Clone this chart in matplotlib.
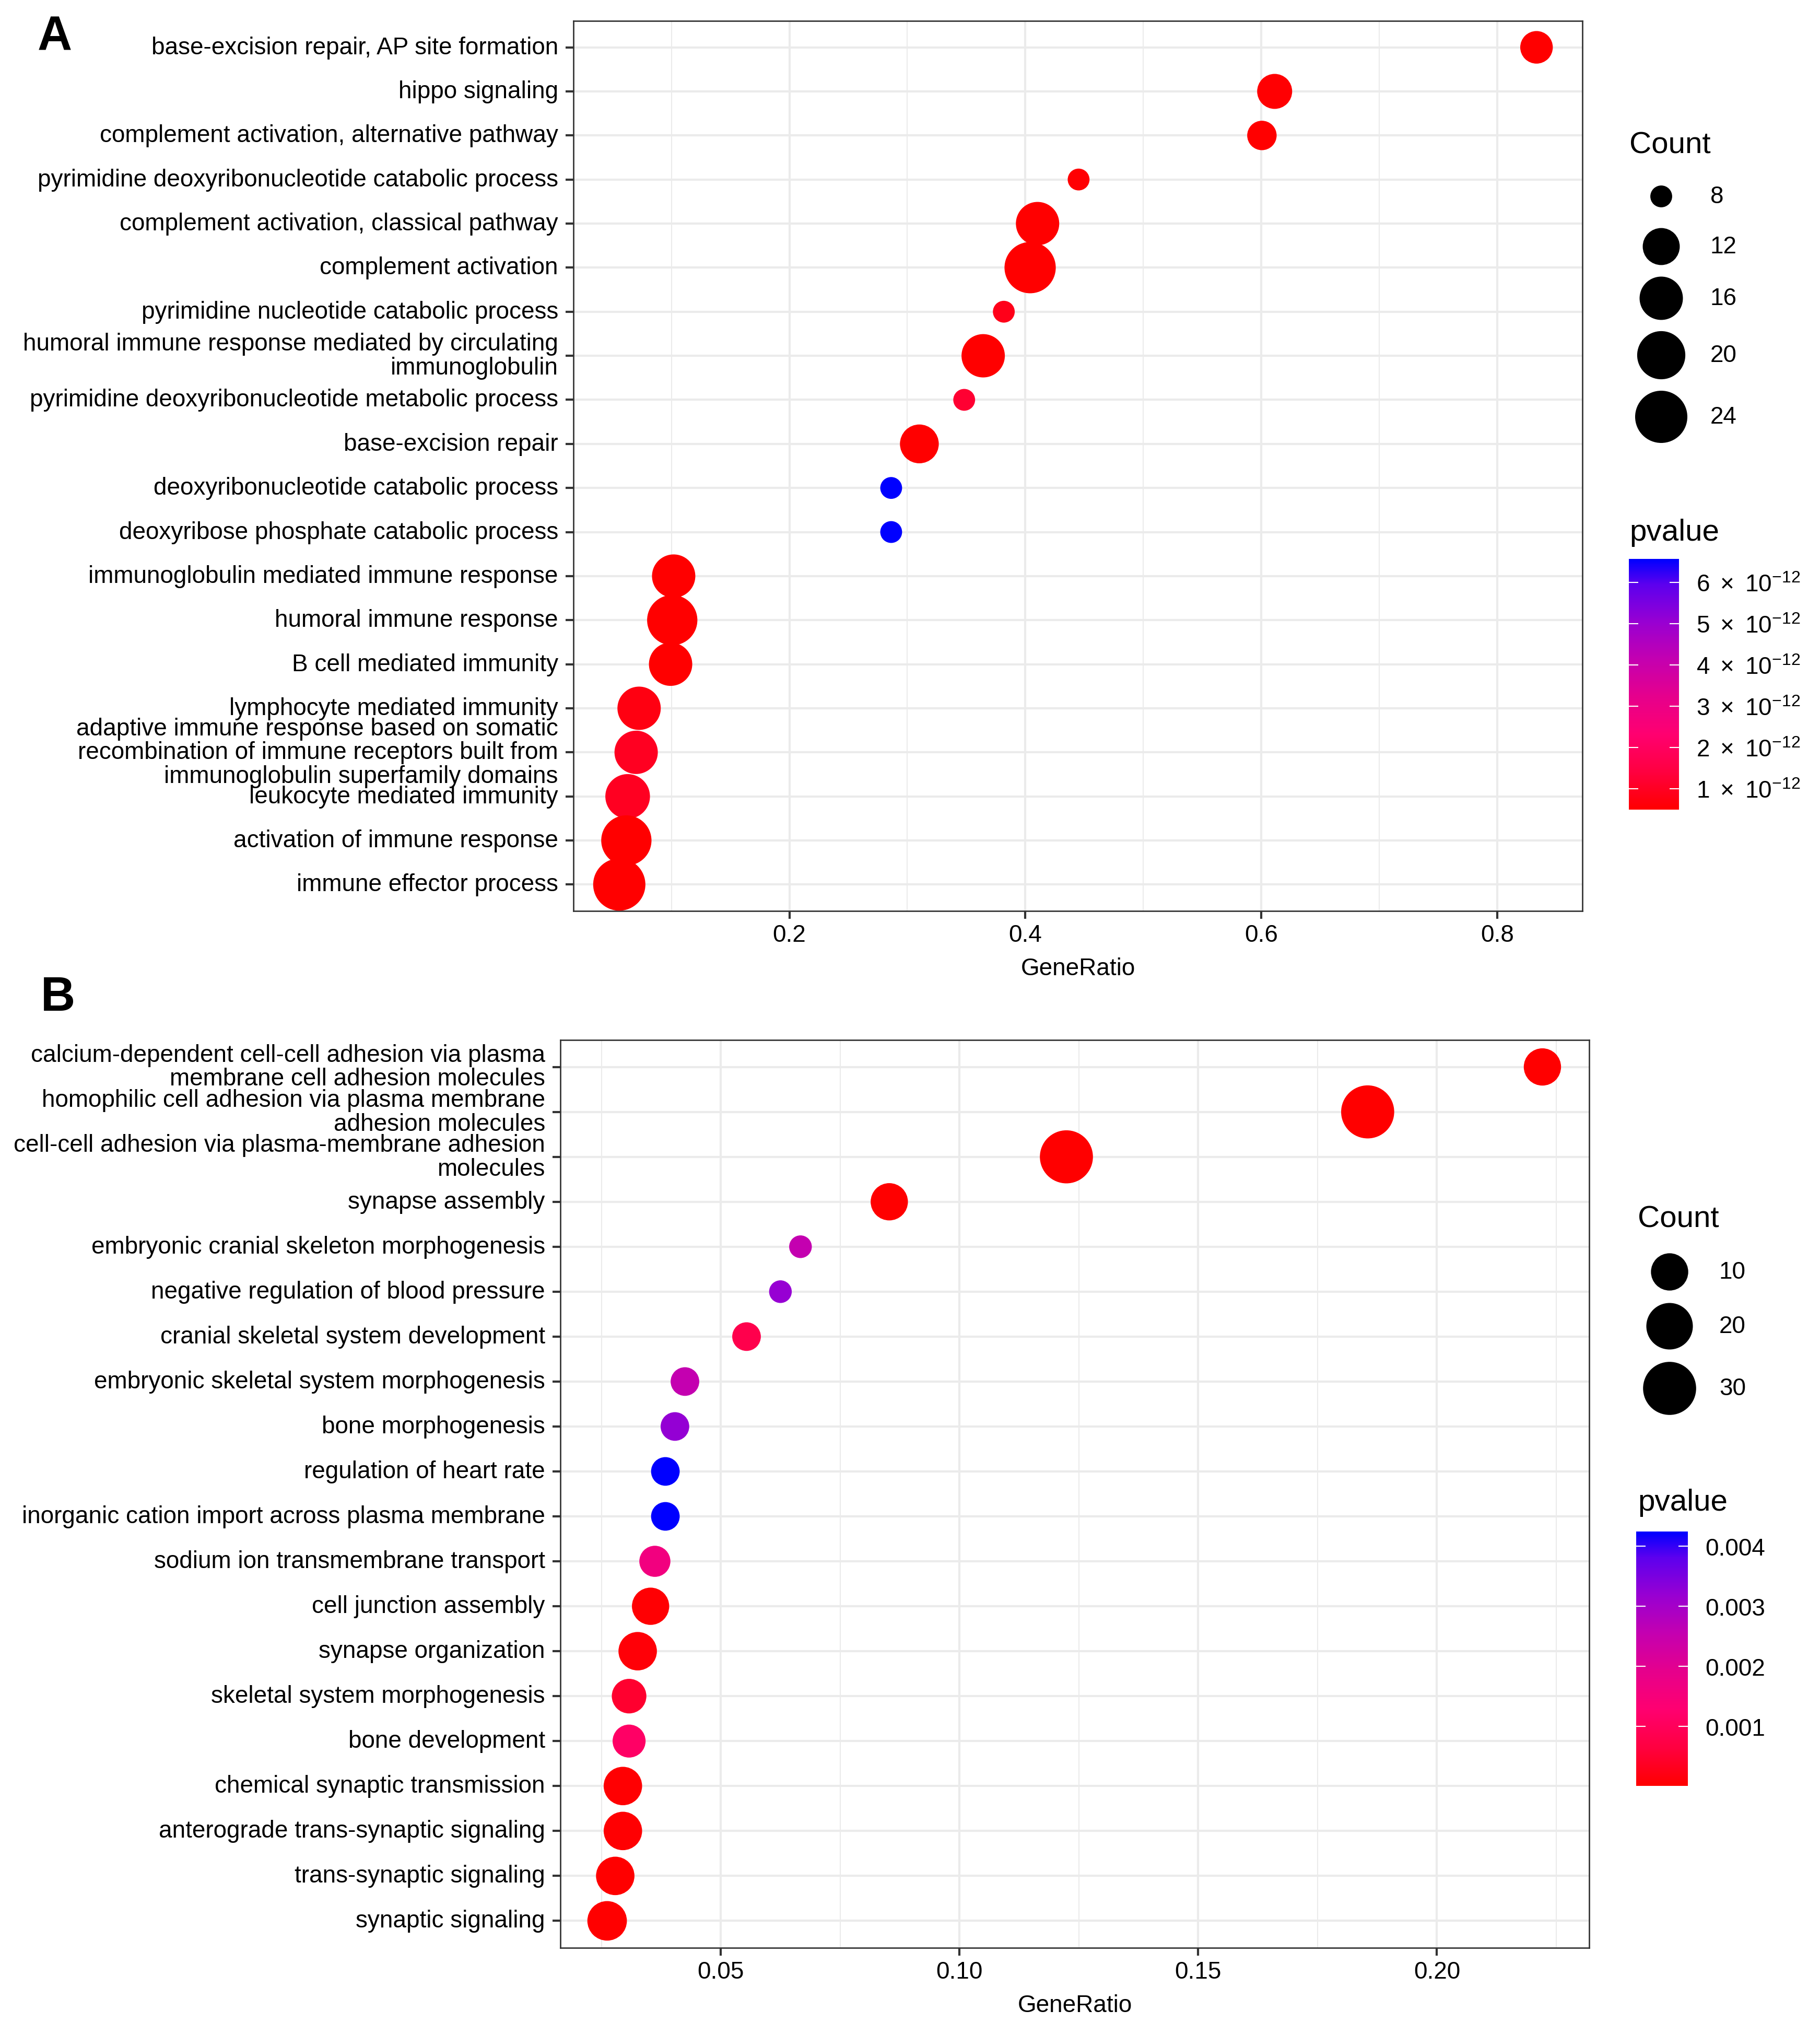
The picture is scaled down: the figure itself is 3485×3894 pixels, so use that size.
import numpy as np
import matplotlib
matplotlib.use("Agg")
import matplotlib.pyplot as plt
from matplotlib.colors import LinearSegmentedColormap, Normalize
from matplotlib.cm import ScalarMappable

plt.rcParams['font.family'] = ['Liberation Sans', 'DejaVu Sans']
plt.rcParams['mathtext.fontset'] = 'custom'
plt.rcParams['mathtext.rm'] = 'Liberation Sans'
plt.rcParams['mathtext.it'] = 'Liberation Sans:italic'
plt.rcParams['mathtext.bf'] = 'Liberation Sans:bold'

W, H, DPI = 3486, 3895, 300

# ---------------- panel A data (top to bottom)
terms_a = [
    "base-excision repair, AP site formation",
    "hippo signaling",
    "complement activation, alternative pathway",
    "pyrimidine deoxyribonucleotide catabolic process",
    "complement activation, classical pathway",
    "complement activation",
    "pyrimidine nucleotide catabolic process",
    "humoral immune response mediated by circulating\nimmunoglobulin",
    "pyrimidine deoxyribonucleotide metabolic process",
    "base-excision repair",
    "deoxyribonucleotide catabolic process",
    "deoxyribose phosphate catabolic process",
    "immunoglobulin mediated immune response",
    "humoral immune response",
    "B cell mediated immunity",
    "lymphocyte mediated immunity",
    "adaptive immune response based on somatic\nrecombination of immune receptors built from\nimmunoglobulin superfamily domains",
    "leukocyte mediated immunity",
    "activation of immune response",
    "immune effector process",
]
ratio_a = [0.8334, 0.6114, 0.6006, 0.4452, 0.4104, 0.4041, 0.3818, 0.3643, 0.3482, 0.3102,
           0.2863, 0.2863, 0.1019, 0.1007, 0.0993, 0.0726, 0.0701, 0.0629, 0.0618, 0.0558]
count_a = [10, 11, 9, 8, 16, 23, 8, 16, 8, 13, 8, 8, 16, 22, 16, 16, 16, 17, 22, 24]
pval_a = np.array([0.50, 0.52, 0.50, 0.55, 0.50, 0.49, 0.85, 0.51, 1.22, 0.50,
                   6.565, 6.565, 0.50, 0.49, 0.50, 0.73, 0.98, 0.98, 0.50, 0.49]) * 1e-12
count_breaks_a = [8, 12, 16, 20, 24]
p_breaks_a = [1e-12, 2e-12, 3e-12, 4e-12, 5e-12, 6e-12]
p_labels_a = [r"$%d\ \times\ 10^{-12}$" % k for k in range(1, 7)]
xticks_a = [0.2, 0.4, 0.6, 0.8]
xlabels_a = ["0.2", "0.4", "0.6", "0.8"]
xminor_a = [0.1, 0.3, 0.5, 0.7]

# ---------------- panel B data (top to bottom)
terms_b = [
    "calcium-dependent cell-cell adhesion via plasma\nmembrane cell adhesion molecules",
    "homophilic cell adhesion via plasma membrane\nadhesion molecules",
    "cell-cell adhesion via plasma-membrane adhesion\nmolecules",
    "synapse assembly",
    "embryonic cranial skeleton morphogenesis",
    "negative regulation of blood pressure",
    "cranial skeletal system development",
    "embryonic skeletal system morphogenesis",
    "bone morphogenesis",
    "regulation of heart rate",
    "inorganic cation import across plasma membrane",
    "sodium ion transmembrane transport",
    "cell junction assembly",
    "synapse organization",
    "skeletal system morphogenesis",
    "bone development",
    "chemical synaptic transmission",
    "anterograde trans-synaptic signaling",
    "trans-synaptic signaling",
    "synaptic signaling",
]
ratio_b = [0.2221, 0.1855, 0.1224, 0.0853, 0.0667, 0.0625, 0.0554, 0.0425, 0.0404, 0.0384,
           0.0384, 0.0362, 0.0353, 0.0326, 0.0308, 0.0308, 0.0295, 0.0295, 0.0279, 0.0262]
count_b = [10, 30, 30, 10, 4, 4, 5, 5, 5, 5, 5, 6, 10, 11, 8, 7, 11, 11, 11, 12]
pval_b = [0.00001, 0.00001, 0.00001, 0.00002, 0.00255, 0.00319, 0.00081, 0.00255, 0.00323, 0.004244,
          0.004244, 0.00162, 0.00005, 0.00009, 0.00048, 0.00115, 0.00003, 0.00003, 0.00002, 0.00002]
count_breaks_b = [10, 20, 30]
p_breaks_b = [0.001, 0.002, 0.003, 0.004]
p_labels_b = ["0.001", "0.002", "0.003", "0.004"]
xticks_b = [0.05, 0.10, 0.15, 0.20]
xlabels_b = ["0.05", "0.10", "0.15", "0.20"]
xminor_b = [0.025, 0.075, 0.125, 0.175, 0.225]

# red -> blue gradient as seen on the reference colour bars
cmap = LinearSegmentedColormap.from_list("pval", [
    (0.00, "#FF0000"), (0.15, "#FF0040"), (0.30, "#FF0070"), (0.45, "#E6008C"),
    (0.60, "#C400B0"), (0.75, "#9800D2"), (0.90, "#5C00EE"), (1.00, "#0000FF")])


def radius(c, cmin, cmax, rmin, rmax):
    frac = (np.asarray(c, float) - cmin) / (cmax - cmin)
    return rmin + (rmax - rmin) * np.sqrt(np.clip(frac, 0, 1))


def area(r_px):
    return (2 * np.asarray(r_px) * 72 / DPI) ** 2


def fpos(x, y):
    return x / W, 1 - y / H


fig = plt.figure(figsize=(W / DPI, H / DPI), dpi=DPI)
ov = fig.add_axes([0, 0, 1, 1], zorder=5)
ov.set_xlim(0, W)
ov.set_ylim(H, 0)
ov.axis('off')


def panel(rect, terms, ratio, count, pval, xticks, xlabels, xminor, rlim):
    ax = fig.add_axes(rect)
    n = len(terms)
    y = np.arange(n)[::-1]
    r = radius(count, min(count), max(count), *rlim)
    norm = Normalize(min(pval), max(pval))
    ax.scatter(ratio, y, s=area(r), c=pval, cmap=cmap, norm=norm, linewidths=0, zorder=3)
    lo, hi = min(ratio), max(ratio)
    pad = 0.05 * (hi - lo)
    ax.set_xlim(lo - pad, hi + pad)
    ax.set_ylim(-0.6, n - 0.4)
    ax.set_yticks(y)
    ax.set_yticklabels(terms, fontsize=11.0, linespacing=1.05)
    for lbl in ax.get_yticklabels():
        lbl.set_verticalalignment('center')
    ax.set_xticks(xticks)
    ax.set_xticklabels(xlabels, fontsize=11)
    ax.set_xticks(xminor, minor=True)
    ax.tick_params(which='major', length=3.7, width=1.0, color='#333333', pad=3.3, labelcolor='black')
    ax.tick_params(axis='x', which='major', pad=2.0)
    ax.tick_params(which='minor', length=0)
    ax.grid(which='major', color='#EBEBEB', linewidth=1.0, zorder=0)
    ax.grid(which='minor', axis='x', color='#EBEBEB', linewidth=0.5, zorder=0)
    ax.set_axisbelow(True)
    for s in ax.spines.values():
        s.set_color('#333333')
        s.set_linewidth(0.65)
    ax.set_xlabel("GeneRatio", fontsize=11, labelpad=4.8)
    return ax, norm


# ---------------- panel A
ax_a, norm_a = panel([1098 / W, 1 - 1745 / H, (3030 - 1098) / W, (1745 - 41) / H],
                     terms_a, ratio_a, count_a, pval_a, xticks_a, xlabels_a, xminor_a, (20.9, 50.0))

# ---------------- panel B
ax_b, norm_b = panel([1073 / W, 1 - 3730 / H, (3043 - 1073) / W, (3730 - 1992) / H],
                     terms_b, ratio_b, count_b, pval_b, xticks_b, xlabels_b, xminor_b, (21.7, 50.8))

fig.text(*fpos(72, 95), "A", fontsize=22, fontweight='bold', va='baseline')
fig.text(*fpos(78, 1935), "B", fontsize=22, fontweight='bold', va='baseline')


def legend(count, breaks, rlim, title_xy, dot_x, dot_ys, lab_x, ptitle_xy, cb_box,
           norm, pticks, plabels):
    fig.text(*fpos(*title_xy), "Count", fontsize=14, va='baseline')
    rr = radius(breaks, min(count), max(count), *rlim)
    ov.scatter([dot_x] * len(breaks), dot_ys, s=area(rr), color='black', linewidths=0)
    for b, yy in zip(breaks, dot_ys):
        fig.text(*fpos(lab_x, yy), str(b), fontsize=11, va='center')
    fig.text(*fpos(*ptitle_xy), "pvalue", fontsize=14, va='baseline')
    x0, y0, x1, y1 = cb_box
    cax = fig.add_axes([x0 / W, 1 - y1 / H, (x1 - x0) / W, (y1 - y0) / H])
    cb = fig.colorbar(ScalarMappable(norm=norm, cmap=cmap), cax=cax)
    cb.outline.set_visible(False)
    cb.set_ticks(pticks)
    cb.set_ticklabels(plabels)
    cax.tick_params(left=True, right=True, direction='in', length=4.3, width=0.5,
                    color='white', labelsize=11, pad=8, labelleft=False, labelright=True)


legend(count_a, count_breaks_a, (20.9, 50.0), (3120, 294), 3181, [377, 473, 572, 681, 799], 3275,
       (3120, 1035), (3119, 1071, 3215, 1551), norm_a, p_breaks_a, p_labels_a)
legend(count_b, count_breaks_b, (21.7, 50.8), (3136, 2350), 3197, [2436, 2540, 2659], 3292,
       (3136, 2892), (3133, 2933, 3232, 3420), norm_b, p_breaks_b, p_labels_b)

fig.savefig("out.png", dpi=DPI, facecolor='white')
